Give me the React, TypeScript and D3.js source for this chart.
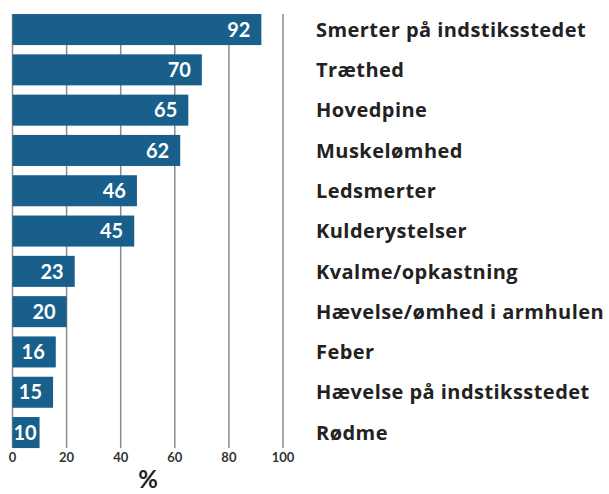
import React from 'react';
import * as d3 from 'd3';

const categories = [
  'Smerter på indstiksstedet',
  'Træthed',
  'Hovedpine',
  'Muskelømhed',
  'Ledsmerter',
  'Kulderystelser',
  'Kvalme/opkastning',
  'Hævelse/ømhed i armhulen',
  'Feber',
  'Hævelse på indstiksstedet',
  'Rødme',
];
const values = [92, 70, 65, 62, 46, 45, 23, 20, 16, 15, 10];
const ticks = [0, 20, 40, 60, 80, 100];

const W = 609;
const H = 494;
const font = 'Lato, "Open Sans", sans-serif';

export default function App() {
  const x = d3.scaleLinear().domain([0, 100]).range([12.5, 283]);
  const y = d3
    .scaleBand<string>()
    .domain(categories)
    .range([9.4, 452.7])
    .paddingInner(0.23)
    .paddingOuter(0.115);
  const bw = y.bandwidth();
  const gridTop = y(categories[0])!;
  const gridBottom = y(categories[categories.length - 1])! + bw;

  return (
    <svg width={W} height={H} style={{ position: 'absolute', left: 0, top: 0 }} fontFamily={font}>
      <rect width={W} height={H} fill="#fff" />
      {ticks.map((t) => (
        <line key={t} x1={x(t)} x2={x(t)} y1={gridTop} y2={gridBottom} stroke="#8a8a8a" strokeWidth={1.5} />
      ))}
      {categories.map((c, i) => {
        const small = values[i] < 12;
        return (
          <g key={c}>
            <rect x={x(0)} y={y(c)} width={x(values[i]) - x(0)} height={bw} fill="#185f8c" />
            <text
              x={small ? x(0) + 1 : x(values[i]) - 11}
              y={y(c)! + bw / 2}
              dy="0.36em"
              textAnchor={small ? 'start' : 'end'}
              fill="#fff"
              fontWeight="bold"
              fontSize={20}
            >
              {values[i]}
            </text>
            <text
              x={316}
              y={y(c)! + bw / 2}
              dy="0.36em"
              fill="#222"
              fontWeight="bold"
              fontSize={20}
              letterSpacing={0.45}
              fontFamily='"Open Sans", sans-serif'
            >
              {c}
            </text>
          </g>
        );
      })}
      {ticks.map((t) => (
        <text key={t} x={x(t)} y={462} textAnchor="middle" fill="#333" fontWeight="bold" fontSize={13}>
          {t}
        </text>
      ))}
      <text x={148} y={488} textAnchor="middle" fill="#222" fontWeight="bold" fontSize={24}>
        %
      </text>
    </svg>
  );
}
